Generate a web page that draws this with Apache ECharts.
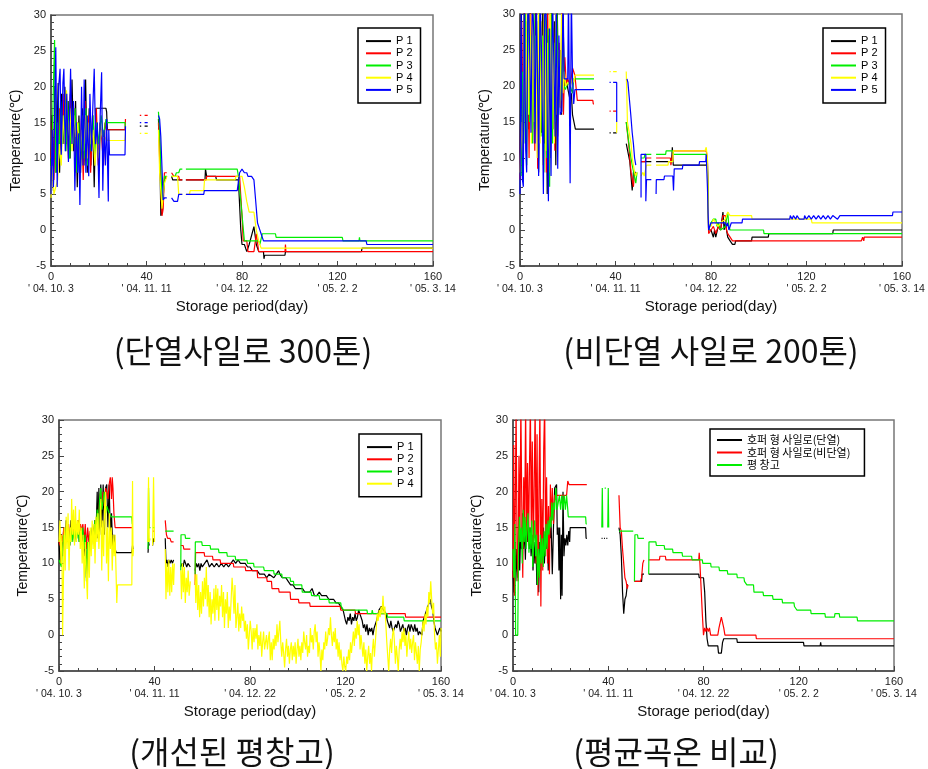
<!DOCTYPE html>
<html><head><meta charset="utf-8">
<script src="https://cdn.jsdelivr.net/npm/echarts@6/dist/echarts.min.js"></script>
<style>html,body{margin:0;padding:0;background:#fff}#c{width:928px;height:769px}</style>
</head><body><div id="c"></div>
<script>
const xTickValues=[0,40,80,120,160];
const xTickDates=["' 04. 10. 3","' 04. 11. 11","' 04. 12. 22","' 05. 2. 2","' 05. 3. 14"];
const yAxisTitle='Temperature(℃)';
const xAxisTitle='Storage period(day)';
const panelTitles=['(단열사일로 300톤)','(비단열 사일로 200톤)','(개선된 평창고)','(평균곡온 비교)'];
const pointNames=['P 1','P 2','P 3','P 4','P 5'];
const compareNames=['호퍼 형 사일로(단열)','호퍼 형 사일로(비단열)','평 창고'];

// ---- Panel 1 : 단열사일로 300톤
const c1P1=[[0,9],[0.5,16],[1,5.5],[1.6,20],[2.2,8],[3,20.5],[3.6,8],[4.4,19],[5,12],[5.8,20],[6.5,12],[7.2,18],[8,10],[8.8,21],[9.5,11],[10.3,18],[11,6],[11.7,16],[12.4,8],[13.1,17],[13.8,9],[14.5,21],[15.2,8],[16,17],[16.7,9],[17.4,16],[18.1,6],[18.8,17],[19.5,17],[23,17],[23.3,16.5],[23.6,14],[31,14],null,[37.2,14.5],[37.8,14.5],null,[39.2,14.5],[40.5,14.5],null,[45,15.5],[45.5,12],[46,2],[46.5,2.5],[47.5,7],[48.5,7.5],null,[50.5,7.5],[51,7],[55,7],null,[56.5,7],[64.5,7],[64.7,8.5],[65.2,7.5],[69,7.5],[69.3,7],[78.5,7],[79.5,0],[80,-2],[81,-2],[82,-3],[83,-2],[85,0.5],[86,-2],[87,-3],[89,-3],[89.2,-4],[89.5,-3.5],[98,-3.5],[98.2,-3],[130,-3],[130.3,-2.5],[160,-2.5]];
const c1P2=[[0,10],[0.6,15],[1.2,7],[2,18],[2.8,9],[3.5,17],[4.3,11],[5.1,19],[5.8,12],[6.5,17],[7.3,10],[8.1,19],[8.8,12],[9.6,17],[10.4,8],[11.2,15],[12,10],[12.8,16],[13.5,7],[14.3,18],[15.1,10],[15.9,16],[16.6,8],[17.4,15],[18.2,11],[19,17],[19.8,9],[20.5,15],[21.2,13],[22,9],[22.6,15],[23.2,14],[31,14],[31.2,15.5],null,[37.2,16],[37.8,16],null,[39.2,16],[40.5,16],null,[45,15],[45.5,10],[46.5,2],[47,3],[47.5,8],[48.5,8],null,[50.5,8],[51.3,8],[51.5,7.5],[53.5,7.5],[53.8,7],[55,7],null,[56.5,7],[65,7],[65.2,7.5],[79,7.5],[80,2],[80.5,-1.5],[82,-1.5],[82.5,-3],[85,-3],[86,-0.5],[86.5,-0.5],[87,-3],[98,-3],[98.2,-2],[98.4,-3],[160,-3]];
const c1P3=[[0,9],[0.5,12],[1,20],[1.5,26.5],[2,8],[2.6,15],[3.3,10],[4,18],[4.8,12],[5.5,16],[6.3,11],[7,18],[7.8,10],[8.6,16],[9.3,12],[10.1,17],[10.8,8],[11.6,15],[12.3,9],[13,16],[13.8,10],[14.6,17],[15.3,9],[16.1,15],[16.8,11],[17.6,16],[18.4,10],[19.2,15],[20,12],[21,16],[22,13],[23,15.5],[23.5,15],[31,15],[31.2,14],null,[45,16.5],[45.5,14],[46.5,4],[47,5],[47.5,7.5],[48.5,7.5],null,[50.5,7.5],[52,7.5],[52.5,8],[53.5,8],[54,8.5],[55,8.5],null,[56.5,8.5],[78,8.5],[78.5,7.5],[79.5,4],[81,-1.5],[87,-1.5],[87.5,-2],[88.5,-0.5],[94,-0.5],[94.3,-1],[122,-1],[122.3,-1.5],[129,-1.5],[129.2,-1],[129.4,-1.5],[160,-1.5]];
const c1P4=[[0,4.5],[0.6,9],[1.2,5],[2,6],[2.8,7],[3.5,12],[4.3,9],[5,16],[5.8,12],[6.5,19.5],[7.3,12],[8,17],[8.8,11],[9.6,16],[10.4,13],[11.2,15],[12,9],[12.8,14],[13.6,11],[14.4,16],[15.2,10],[16,15],[16.8,12],[17.6,14],[18.4,9],[19.2,13],[20,10],[21,14],[22,12],[23,13],[23.5,12.5],[31,12.5],[31.2,13.5],null,[37.2,13.5],[37.8,13.5],null,[39.2,13.5],[40.5,13.5],null,[45,14],[45.5,8],[46.5,3],[47.5,6.5],[48.5,7.5],null,[50.5,7.5],[53,7.5],[53.5,5],[55,5],null,[56.5,5],[58,5],[58.3,5.5],[64,5.5],[64.3,7],[77,7],[77.5,7.5],[80,7.5],[81,6],[82,4],[83,2.5],[85,2.5],[86,0],[87,-1.5],[88,-2.5],[160,-2.5]];
const c1P5=[[0,5],[0.5,14],[1,6],[1.5,16],[2,25.5],[2.6,6],[3.2,20],[3.8,22.5],[4.3,10.5],[5,20.5],[5.4,22.5],[6,11],[6.6,19],[7.3,9.5],[8.2,22.5],[8.8,12],[9.4,18],[10,5.5],[10.6,15],[11.2,8],[11.6,13.5],[12.1,3.5],[12.8,20],[13.4,9],[13.9,21],[14.6,8],[15.2,16],[15.8,7.5],[16.3,19],[17,11],[17.5,17],[18.1,22.5],[18.7,12],[19.4,15],[20.1,4.5],[20.6,16],[21.2,22],[21.7,5.5],[22.2,14],[22.8,9],[23.3,15.5],[24,4],[24.2,14],[24.5,10.5],[31,10.5],[31.2,14.5],null,[37.2,15],[37.8,15],null,[39.2,15],[40.5,15],null,[45,16],[45.5,15.5],[46,13],[47,4.2],[47.5,4.5],[48.5,4.5],null,[50.5,4.5],[51.5,4],[53,4],[53.5,5],[55,5],null,[56.5,5],[64,5],[64.2,5.5],[78,5.5],[79,8],[80,8.5],[81,8],[82,8],[82.5,7.5],[84,7.5],[85,7],[85.5,5],[86.5,1],[87.5,0],[88,-0.5],[89,-1.5],[132,-1.5],[132.3,-2],[160,-2]];

// ---- Panel 2 : 비단열 사일로 200톤
const c2P1=[[0,8],[0.6,30],[1.2,9],[1.8,33],[2.4,12],[3,29],[3.6,14],[4.2,33],[4.8,16],[5.4,31],[6,12],[6.6,33],[7.2,15],[7.8,8],[8.4,28],[9,13.5],[9.6,33],[10.2,12],[10.8,30],[11.4,5],[12,27],[12.6,10],[13.2,33],[13.8,14],[14.4,29],[15,9],[15.6,31],[16.2,17],[16.8,25],[17.4,16],[18,30],[18.6,20],[19.2,21],[20,21],[21,18],[21.5,19],[22,16],[22.5,16],[23.2,14],[31,14],null,[37.5,13.5],[38,13.5],null,[39,13.5],[40.5,13.5],null,[44.5,12],[45.2,12],[46,9.5],[46.5,9.5],[47,5.5],[47.5,8],[48.5,8],null,[50.7,9.5],[55,9.5],null,[57,9.5],[63.5,9.5],[63.8,11.5],[64.2,9],[78,9],[78.5,9.5],[79,0],[80,0],[81,-1],[81.5,0],[82,-1],[83,0.5],[84,0],[85,2.5],[85.5,0],[86,1],[87,-1],[88,-1.5],[89,-2],[90,-2],[90.3,-1.5],[97,-1.5],[97.2,-1],[104,-1],[104.2,-0.5],[131,-0.5],[131.2,0],[160,0]];
const c2P2=[[0,7],[0.7,29],[1.3,10],[2,33],[2.6,13],[3.2,27],[3.8,10],[4.4,33],[5,14],[5.6,30],[6.2,11],[6.8,31],[7.4,8.5],[8,33],[8.6,14],[9.2,25],[9.8,10],[10.4,33],[11,8],[11.6,31],[12.2,9],[12.8,33],[13.4,15],[14,28],[14.6,11],[15.2,33],[15.8,13],[16.4,26],[17,17],[17.6,32],[18.2,16],[18.8,24],[19.4,20],[20,21],[21,20],[22,22.5],[22.5,22.5],[23,21.5],[24,18],[30.5,18],[30.7,17.5],[31,17.5],null,[37.5,16.5],[38,16.5],null,[39,16.5],[40.5,16.5],null,[44.5,15],[45.5,12],[46.5,8],[47.5,6],[48,8],[48.5,7.5],null,[50.7,9.5],[52.5,9.5],[52.7,10],[55,10],null,[57,10],[63,10],[63.2,9],[64,9],[64.2,11],[78,11],[78.5,10],[79,-0.5],[80,0],[81,0.5],[82,-0.5],[83,0.5],[84,0],[85,2],[86,2],[86.5,0],[87,-0.5],[88,-1],[89,-1.5],[143,-1.5],[143.5,-1],[144,-1.5],[144.2,-1],[160,-1]];
const c2P3=[[0,8],[0.5,7.5],[1,22],[1.6,12],[2.2,30],[2.8,9],[3.4,33],[4,15],[4.6,27],[5.2,12],[5.8,33],[6.4,14],[7,29],[7.6,11],[8.2,33],[8.8,13],[9.4,27],[10,8],[10.6,32],[11.2,10],[11.8,28],[12.4,6],[13,33],[13.6,12],[14.2,26],[14.8,15],[15.4,33],[16,16],[16.6,24],[17.2,18],[17.8,28],[18.4,20],[19,19.5],[20,20.5],[21,20],[22,19],[22.5,21],[23,21],[31,21],null,[44.5,15],[46,11],[47,9],[48.5,6.5],[49,8],null,[50.7,10],[52,10],[52.3,10.5],[55,10.5],null,[57,10.5],[61,10.5],[61.2,11],[64,11],[64.2,10.5],[78,10.5],[78.5,9],[79,0],[80,1],[81,1.5],[82,1.5],[82.5,0.5],[83,1],[84,0],[86,0.5],[87,2.5],[87.5,0.5],[88,0],[102,0],[102.2,-0.5],[160,-0.5]];
const c2P4=[[0,8],[0.6,15],[1.2,10],[1.8,30],[2.4,14],[3,33],[3.6,16],[4.2,30],[4.8,12],[5.4,33],[6,15],[6.6,27],[7.2,10],[7.8,33],[8.4,12],[9,29],[9.6,9],[10.2,33],[10.8,11],[11.4,26],[12,8],[12.6,33],[13.2,14],[13.8,28],[14.4,12],[15,33],[15.6,16],[16.2,25],[16.8,17],[17.4,30],[18,19],[18.6,22],[19.2,20],[20,20.5],[21,20],[22,21],[22.5,20.5],[23,21.5],[31,21.5],null,[37.5,22],[38,22],null,[39,22],[40.5,22],null,[40.5,15],[40.5,13.5],null,[44.5,22],[45,15],[45.5,14],[46.5,12],[47,10],[48,8],[48.5,7.5],[49,8],null,[50.7,7.5],[51.5,8],[52,7.5],[53,9],[55,9],null,[57,9],[62,9],[62.2,9.5],[64,9.5],[64.2,11],[77.5,11],[78,11.5],[78.5,10],[79,0.5],[80,0.5],[81,1.5],[82,1],[83,0.5],[84,1],[86,1.5],[87,2.5],[88,2],[97,2],[97.2,1.5],[122,1.5],[122.3,1],[160,1]];
const c2P5=[[0,5],[0.5,30],[1,7],[1.4,6],[1.8,33],[2.4,11],[2.8,8],[3.3,33],[3.8,29],[4.2,22],[4.6,13.5],[5.2,33],[5.8,27],[6.3,12],[6.8,33],[7.3,22],[7.8,7.5],[8.4,33],[9,25],[9.8,5],[10.4,33],[11,29],[11.5,12],[11.9,4],[12.4,28],[13,7.5],[13.6,33],[14.2,23],[14.7,13],[15.2,33],[15.8,8.5],[16.3,27],[16.8,16],[17.5,16.5],[18,33],[18.5,21],[20,21],[20.3,33],[21,6.5],[21.5,33],[22,21],[22.5,17.5],[23,19.5],[31,19.5],null,[37.5,20.5],[38,20.5],null,[39,20.5],[40.5,20.5],[40.5,15],null,[44.8,21],[45.2,20.5],[45.6,19],[46.4,16],[47,13.5],[47.5,12],[48,10],[48.5,9],null,[50.7,4.5],[50.7,10.5],[52.7,10.5],[52.7,4],[53,7],[55,7],null,[57,5],[57.1,7],[60.3,7],[60.5,7.5],[64,7.5],[64.3,5.5],[64.6,8.5],[68,8.5],[68.2,9],[75,9],[75.2,9.5],[77.8,9.5],[78,10.5],[78.5,6],[79,0],[80,1],[86,1],[86.5,0.5],[87,1],[87.5,0],[88,0],[88.5,1],[93,1],[93.2,1.5],[113,1.5],[113.2,2],[114,1.5],[114.5,2],[115.5,1.5],[116,2],[117,1.5],[119,1.5],[119.2,2],[120,1.5],[121,2],[122,1.5],[123,2],[124,1.5],[125,2],[126,1.5],[127,2],[128,1.5],[129,2],[130,1.5],[131,2],[133,1.5],[134,2],[156,2],[156.2,2.5],[160,2.5]];

// ---- Panel 3 : 개선된 평창고
const c3P1=[[0,13],[0.5,10],[1,14],[1.5,11],[2,15],[2.5,12.5],[3,16],[3.5,13],[4,15],[4.5,12.5],[5,16],[5.5,14],[6,16.5],[6.5,13],[7,15.5],[7.5,14],[8,16],[8.5,13],[9,15],[9.5,13],[10,14.5],[10.5,11],[11,14],[11.5,8],[12,13],[12.5,10],[13,14],[13.5,12],[14,15],[14.5,13.5],[15,16],[15.5,14],[16,20],[16.3,13.5],[16.7,20.5],[17,14],[17.5,21],[18,15],[18.5,21],[19,14],[19.5,20.5],[20,21],[20.5,15],[21,21],[21.5,14],[22,17],[22.5,12],[23,14],[23.5,12],[24,11.5],[30.5,11.5],[30.8,12.5],[31,12],null,[37.3,11.5],[37.5,13],[37.8,12.5],null,[39.2,12.5],[39.5,13.5],[39.8,13],null,[44.5,13.5],[44.8,10],[45.2,10.5],[45.6,9.5],[46,10.5],[46.5,10],[47,10.5],[47.5,10],[48,10.5],null,[51,9.5],[51.5,10],[52,9.5],[52.5,10.5],[53,10],[53.5,9.5],[54,10],[55,9.5],null,[57,9],[57.5,10],[58,9.5],[58.5,10],[59,9],[59.5,10],[60,9.5],[61,10],[62,10.5],[62.5,10],[63,9.5],[64,10],[65,9.5],[66,10],[67,9.5],[68,10],[69,9.5],[70,10],[71,9.5],[72,10],[73,10.5],[74,10],[75,10.5],[76,10],[78,10],[79,9.5],[80,9.5],[81,9],[83,9],[84,8.5],[86,8.5],[87,8],[88,8.5],[90,8],[91,8.5],[92,9],[92.5,8.5],[93.5,8],[95,8],[96,7.5],[97,7],[98,7],[99,6.5],[102,6.5],[103,6],[105,6],[106,6.5],[107,5.5],[108,5.5],[109,6],[110,5.5],[112,5.5],[113,5],[115,5],[116,4.5],[117,4.5],[118,4],[119,3.5],[120,2],[120.5,1.5],[121,2.5],[121.5,2],[122,3],[122.5,1.5],[123,2.5],[123.5,2],[124,3],[124.5,2],[125,2.5],[125.5,3.5],[126,3],[127,2],[127.5,1],[128,1.5],[128.5,0.5],[129,1.5],[129.5,0],[130,1],[130.5,0.5],[131,1],[131.5,0],[132,1],[133,2],[134,3.5],[135,4],[136,3.5],[137,3],[137.5,2],[138,1.5],[138.5,1],[139,2],[139.5,1],[140,0.5],[141,1.5],[141.5,1],[142,2],[142.5,1.5],[143,0.5],[143.5,1],[144,1.5],[144.5,0.5],[145,1],[145.5,0],[146,1],[146.5,1.5],[147,0.5],[147.5,1.5],[148,1],[148.5,0.5],[149,1.5],[149.5,0.5],[150,1],[150.5,0],[151,0.5],[152,0],[152.5,2],[153,2.5],[153.5,3],[154,3.5],[155,4.5],[155.5,5],[156,4],[156.5,3.5],[157,2],[157.5,1],[158,0.5],[158.5,0],[159,0.5],[159.5,1],[160,0.5]];
const c3P2=[[0,13],[0.5,12.5],[1,14],[1.5,13],[2,15],[2.5,12.5],[3,14.5],[3.5,13],[4,15.5],[4.5,13.5],[5,15],[5.5,14],[6,16],[6.5,13.5],[7,15],[7.5,14],[8,16],[8.5,14.5],[9,15.5],[9.5,14.5],[10,15.5],[10.5,13],[11,15.5],[11.5,12],[12,15],[12.5,13],[13,14.5],[13.5,12.5],[14,15],[14.5,14],[15,16],[15.5,15],[16,17],[16.5,15],[17,19],[17.5,20],[18,18],[18.5,20],[19,18],[19.5,20.5],[20,20],[20.5,19],[21,21],[21.5,22],[22,19],[22.3,22],[22.6,20.5],[23,17],[23.5,15],[31,15],null,[37.3,15],[38,15],null,[39.3,14.5],[40,14.5],null,[44.5,16],[45,14],[45.5,13.5],[46.5,13.5],[47,13],[48,13],null,[51,12.5],[52,12.5],[52.3,12],[55,12],null,[57,7],[57.2,11.5],[60.8,11.5],[61,11],[64.3,11],[64.5,10.5],[67.5,10.5],[67.7,10],[73,10],[73.2,9.5],[78,9.5],[78.2,9],[83,9],[83.2,8],[87,8],[87.2,7.5],[89,7.5],[89.2,6.5],[92,6.5],[92.2,6],[96.8,6],[97,5],[100.3,5],[100.5,4.5],[105,4.5],[105.2,4],[117.8,4],[118,3.5],[124,3.5],[124.2,3],[145,3],[145.2,2.5],[160,2.5]];
const c3P3=[[0,10.5],[0.5,10],[1,9.5],[1.5,12],[2,14],[2.5,12.5],[3,15],[3.5,13],[4,14.5],[4.5,12.5],[5,15],[5.5,13],[6,14.5],[6.5,13],[7,15],[7.5,13.5],[8,15],[8.5,13],[9,14.5],[9.5,13],[10,15],[10.5,12],[11,14],[11.5,7.5],[12,13],[12.5,10],[13,14],[13.5,12.5],[14,15],[14.5,13],[15,16],[15.5,14],[16,17.5],[16.5,15],[17,19],[17.5,20.5],[18,17.5],[18.5,17.5],[19,20],[19.5,17],[20,18],[21,17],[22,16.5],[24,16.5],[30.5,16.5],[30.7,15.5],[31,15.5],null,[37.3,12],[37.5,20.5],[37.8,15],[38.3,15],null,[39.3,15],[40,15],null,[44.5,14.5],[48,14.5],null,[51,9],[51.1,14],[52.8,14],[53,13.5],[55,13.5],null,[57,8.5],[57.1,13],[59.8,13],[60,12.5],[63.3,12.5],[63.5,12],[66.8,12],[67,11.5],[70.3,11.5],[70.5,11],[73.8,11],[74,10.5],[78.7,10.5],[79,10],[81.5,10],[81.7,9.5],[85.7,9.5],[86,9],[89.9,9],[90.1,8.5],[93.3,8.5],[93.5,8],[96.8,8],[97,7.5],[98.2,7.5],[98.4,7],[101.7,7],[101.9,6],[105.6,6],[105.8,5.5],[109,5.5],[109.2,5],[113,5],[113.2,4.5],[118,4.5],[118.2,4],[119,4],[119.2,3.5],[129,3.5],[129.2,3],[131,3],[131.2,3.5],[131.5,3],[137.4,3],[137.6,2.5],[144.4,2.5],[144.6,2],[160,2]];
const c3P4=[[0,13],[0.4,16],[0.8,10],[1.2,14],[1.5,0],[1.9,0],[2.2,15],[2.6,9],[3,16.5],[3.4,12],[3.8,17],[4.2,9],[4.6,15],[5,13],[5.3,19],[5.7,14],[6.1,17.5],[6.5,12.5],[6.9,18],[7.3,13],[7.7,16],[8.1,14],[8.5,17.5],[8.9,12],[9.3,15],[9.7,10],[10.1,14],[10.6,6.5],[11,13],[11.4,9],[11.9,5],[12.3,13],[12.7,8],[13.1,15],[13.5,11],[13.9,16],[14.3,12],[14.7,15.5],[15.1,10],[15.5,16.5],[15.9,13],[16.3,17],[16.7,12],[17.1,15],[17.5,19],[17.9,9],[18.3,16],[18.7,11],[19.1,18],[19.5,20],[19.9,10],[20.3,15],[20.7,7.5],[21.1,17],[21.5,12],[21.9,15],[22.3,9],[22.7,14],[23.1,11],[23.5,14],[23.8,10],[24.2,4.5],[24.5,7],[30.5,7],[30.8,21.5],[31,11],[31.2,12],null,[37.2,13],[37.5,22],[37.8,13],[38.2,13.5],null,[39.2,12.5],[39.6,22],[40,13],null,[44.5,12],[44.8,5],[45.2,10],[45.6,6],[46,10.5],[46.4,5.5],[46.8,9.5],[47.2,6],[47.6,10],[48,7],[48.3,10],null,[51,9],[51.3,5],[51.7,10],[52.1,6],[52.5,9.5],[52.9,4.5],[53.3,8],[53.7,6],[54.1,9],[54.5,5.5],[55,7.5],null,[57,8.5],[57.3,4.5],[57.7,8.5],[58.1,3.5],[58.5,7],[58.9,2.5],[59.3,6],[59.7,3],[60.1,7.5],[60.5,4],[60.9,8],[61.3,5],[61.7,9.5],[62.1,4],[62.5,7],[62.9,2.5],[63.3,6],[63.7,1.5],[64.1,5],[64.5,3],[64.9,6.5],[65.3,2],[65.7,7],[66.1,3.5],[66.5,6.5],[66.9,2],[67.3,5.5],[67.7,4],[68.1,7],[68.5,2.5],[68.9,6],[69.3,1],[69.7,5],[70.1,3],[70.5,6],[70.9,1],[71.3,4],[71.7,2],[72.1,5],[72.5,8],[72.9,6],[73.3,3],[73.7,7],[74.1,1],[74.5,2.5],[74.9,4.5],[75.3,0.5],[75.7,3],[76.1,1],[76.5,4],[76.9,2],[77.3,3],[77.7,0.5],[78.1,2],[78.5,-0.5],[78.9,1.5],[79.3,-2],[79.7,0],[80.1,2],[80.5,0.5],[80.9,-2],[81.3,1],[81.7,-1],[82.1,1],[82.5,-0.5],[82.9,1.5],[83.3,-2],[83.7,0],[84.1,-1.5],[84.5,0.5],[84.9,-3],[85.3,-1],[85.7,0.5],[86.1,-2],[86.5,-1],[86.9,0],[87.3,-2],[87.7,-0.5],[88.1,0.5],[88.5,-3.5],[88.9,-1],[89.3,-3.5],[89.7,-0.5],[90.1,-2],[90.5,0],[90.9,-1.5],[91.3,1.5],[91.7,-1],[92.1,0.5],[92.5,2],[92.9,-1],[93.3,-3],[93.7,-1],[94.1,-2.5],[94.5,-4.5],[94.9,-2],[95.3,-0.5],[95.7,-3],[96.1,-1.5],[96.5,-4],[96.9,-2],[97.3,-1],[97.7,-3.5],[98.1,-1.5],[98.5,-3],[98.9,-1],[99.3,-4],[99.7,-2],[100.1,-0.5],[100.5,-3],[100.9,-1.5],[101.3,-3.5],[101.7,-1],[102.1,-2.5],[102.5,0.5],[102.9,-1],[103.3,-2],[103.7,0],[104.1,-3],[104.5,-1.5],[104.9,-2.5],[105.3,1],[105.7,-1],[106.1,0],[106.5,-2],[106.9,0.5],[107.3,1.5],[107.7,-1],[108.1,0.5],[108.5,-3],[108.9,-1],[109.3,-2.5],[109.7,-5],[110.1,-2],[110.5,-3.5],[110.9,-1],[111.3,-2],[111.7,0.5],[112.1,-1.5],[112.5,-0.5],[112.9,1],[113.3,0],[113.7,2.5],[114.1,0],[114.5,-1.5],[114.9,0.5],[115.3,-1],[115.7,1],[116.1,-2],[116.5,-0.5],[116.9,-3],[117.3,-1],[117.7,-3.5],[118.1,-2],[118.5,-4],[118.9,-5],[119.3,-3],[119.7,-4.5],[120.1,-5],[120.5,-3],[120.9,-4],[121.3,-2],[121.7,-3.5],[122.1,-1],[122.5,-2.5],[122.9,-1],[123.3,0.5],[123.7,-1.5],[124.1,1],[124.5,-0.5],[124.9,2],[125.3,0],[125.7,1.5],[126.1,-2],[126.5,0],[126.9,-1.5],[127.3,-3],[127.7,-1],[128.1,-4],[128.5,-2],[128.9,-5],[129.3,-3],[129.7,-1.5],[130.1,-4],[130.5,-2.5],[130.9,-5],[131.3,-2],[131.7,-0.5],[132.1,-3],[132.5,-1],[132.9,1],[133.3,3],[133.7,2],[134.1,3.5],[134.5,2.5],[134.9,4],[135.3,3],[135.7,5.5],[136.1,3],[136.5,4],[136.9,1.5],[137.3,-1],[137.7,-3],[138.1,-5],[138.5,-2],[138.9,-0.5],[139.3,-2.5],[139.7,0],[140.1,1],[140.5,-1],[140.9,-4],[141.3,-1.5],[141.7,-3],[142.1,-5],[142.5,-2],[142.9,-0.5],[143.3,-2],[143.7,0.5],[144.1,-1],[144.5,1],[144.9,-1.5],[145.3,0],[145.7,-3],[146.1,-1],[146.5,0.5],[146.9,-2],[147.3,-0.5],[147.7,-2.5],[148.1,-1],[148.5,0],[148.9,-3.5],[149.3,-1],[149.7,-2.5],[150.1,-4],[150.5,-1.5],[150.9,-5],[151.3,-2],[151.7,-1],[152.1,0.5],[152.5,2],[152.9,0.5],[153.3,3],[153.7,1.5],[154.1,4],[154.5,2.5],[154.9,6],[155.3,4.5],[155.7,7.5],[156.1,5],[156.5,3],[156.9,4.5],[157.3,0],[157.7,-2],[158.1,-1],[158.5,-4],[158.9,-2],[159.3,0],[159.7,-3],[160,1]];

// ---- Panel 4 : 평균곡온 비교
const c4Insulated=[[0,9],[0.4,6],[0.8,13],[1.2,7.5],[1.6,12],[2,8],[2.4,16],[2.8,9],[3.2,14],[3.6,12],[4,17],[4.4,12],[4.8,15],[5.2,10.5],[5.6,16],[6,13],[6.4,17],[6.8,12],[7.2,15],[7.6,11],[8,14],[8.4,9],[8.8,13],[9.2,10],[9.6,14],[10,7],[10.4,12],[10.8,6],[11.2,13],[11.6,9],[12,14],[12.4,11],[12.8,15],[13.2,10],[13.6,14],[14,12],[14.4,16],[14.8,9],[15.2,14],[15.6,13.5],[16,15.5],[16.5,8.5],[17,15],[17.5,20.5],[18,20.5],[18.3,21],[18.6,14],[19,15],[19.3,9],[19.6,15],[20,5],[20.3,14],[20.6,5.5],[21,20],[21.4,11],[21.8,13.5],[22.2,12.5],[22.6,14],[23,12.5],[23.4,14.5],[23.8,13],[24,15],[30.5,15],[30.7,13.5],[31,13.5],null,[37.2,13.5],[37.6,13.5],null,[38.2,13.5],[38.6,13.5],null,[39.2,13.5],[39.6,13.5],null,[44.5,15],[45,14],[45.5,11],[46,6],[46.5,3],[47,5],[47.5,5.5],[48,7],[48.3,7],null,[51,7.5],[54,7.5],[54.2,8.5],[55,8.5],null,[57,8.5],[78,8.5],[78.2,8],[80,8],[80.5,6],[81,2],[81.5,-0.5],[82,-1.5],[86,-1.5],[86.3,-2.5],[87.5,-2.5],[88,-1],[88.5,-0.5],[94,-0.5],[94.2,-1],[122,-1],[122.2,-1.5],[129,-1.5],[129.2,-1],[129.4,-1.5],[160,-1.5]];
const c4NonInsulated=[[0,8],[0.3,26.5],[0.6,5.5],[1,20],[1.3,32],[1.7,12],[2.1,7.5],[2.5,25],[2.9,13],[3.3,32],[3.7,18],[4.1,8],[4.5,22],[4.9,15],[5.3,32],[5.7,13],[6.1,24],[6.5,12.5],[6.9,23],[7.3,32],[7.7,14],[8.1,27],[8.5,11],[8.9,21],[9.3,32],[9.7,10],[10.1,28],[10.5,5.5],[10.9,20],[11.3,32],[11.7,4],[12.1,19],[12.5,9],[12.9,26],[13.3,32],[13.7,11],[14.1,22],[14.5,10],[14.9,18],[15.3,8.5],[15.7,21],[16.1,15.5],[16.5,20.5],[17,15.5],[17.5,19.5],[22.5,19.5],[23,21.5],[23.5,21],[31,21],null,[44.5,19.5],[45,15],[45.5,14.5],[46,12],[47,8],[47.5,7.5],[48,6.5],[48.3,7],null,[51,7.5],[53.5,7.5],[54,8],[54.5,10],[55,10.5],null,[57,10.5],[61.5,10.5],[61.7,11],[64,11],[64.2,10.5],[78,10.5],[78.2,11.5],[78.5,10],[79.5,3],[80,0],[80.5,1],[81,0.5],[81.5,1],[82,0.5],[82.5,1],[83,0],[86,0],[86.5,1],[87.5,2.5],[88.5,1],[89,0],[102,0],[102.2,-0.5],[160,-0.5]];
const c4Warehouse=[[0,12],[0.4,8],[0.8,15.5],[1.1,0],[2,0],[2.3,12],[2.7,16.5],[3.1,13],[3.5,15],[3.9,10],[4.3,17.5],[4.7,13],[5.1,16.5],[5.5,12],[5.9,15],[6.3,17],[6.7,11.5],[7.1,15],[7.5,12],[7.9,16],[8.3,9.5],[8.7,13],[9.1,16],[9.5,11],[9.9,14],[10.3,7],[10.7,12],[11.1,8],[11.5,14],[11.9,10],[12.3,13.5],[12.7,9.5],[13.1,14.5],[13.5,11],[13.9,15.5],[14.3,12],[14.7,16],[15.1,14],[15.5,16.5],[15.9,15],[16.3,18.5],[16.7,16],[17.1,18.5],[17.5,17.5],[18,20.5],[18.5,17.5],[19,17.5],[19.5,19.5],[20,17.5],[20.5,19.5],[21,17.5],[21.5,19.5],[22,17.5],[22.5,19.5],[23,17.5],[23.2,16.5],[30.5,16.5],[30.7,15.5],[31,15.5],null,[37.3,15],[37.5,20.5],[37.7,15],null,[38.5,20.5],[39,20.5],null,[39.8,15],[40,20.5],[40.2,15],null,[44.5,14.5],[50.5,14.5],null,[51,7.5],[51.2,14],[52.3,14],[52.5,13.5],[55,13.5],null,[57,8.5],[57.1,13],[60,13],[60.2,12.5],[63.5,12.5],[63.7,12],[67,12],[67.2,11.5],[71,11.5],[71.2,11],[75,11],[75.2,10.5],[79.5,10.5],[79.7,10],[83,10],[83.2,9.5],[86.5,9.5],[86.7,9],[90,9],[90.2,8.5],[94,8.5],[94.2,8],[97,8],[97.2,7.5],[98,7.5],[98.2,7],[101,7],[101.2,6],[105,6],[105.2,5.5],[109,5.5],[109.2,5],[113,5],[113.2,4.5],[118,4.5],[118.2,4],[119,4],[119.2,3.5],[125,3.5],[125.2,3],[131,3],[131.2,2.5],[135,2.5],[135.2,3],[137,3],[137.2,2.5],[144.5,2.5],[144.7,2],[160,2]];

const COLORS=['#000000','#ff0000','#00ee00','#ffff00','#0000ff'];
const GRIDS=[{left:51,top:15,width:382,height:251},{left:520,top:14,width:382,height:252},{left:59,top:420,width:382,height:251},{left:513,top:420,width:381,height:251}];
const YNAMEGAP=[28,28,29,29];
const LEGENDS=[{left:358,top:28},{left:823,top:28},{left:359,top:434},{left:710,top:429}];
const TITLEPOS=[[243,351],[711,351],[232,752],[676,752]];
const FONT='"Liberation Sans", Arial, sans-serif';

const panels=[
  {names:pointNames,data:[c1P1,c1P2,c1P3,c1P4,c1P5]},
  {names:pointNames,data:[c2P1,c2P2,c2P3,c2P4,c2P5]},
  {names:pointNames.slice(0,4),data:[c3P1,c3P2,c3P3,c3P4]},
  {names:compareNames,data:[c4Insulated,c4NonInsulated,c4Warehouse]}
];
function prep(arr){return arr.map(p=>p===null?['-','-']:p);}
const dateOf={};xTickValues.forEach((v,i)=>dateOf[v]=xTickDates[i]);

const grid=[],xAxis=[],yAxis=[],series=[],legend=[],graphic=[];
panels.forEach((pn,i)=>{
  grid.push(Object.assign({show:true,borderColor:'#777',borderWidth:1.5,backgroundColor:'transparent'},GRIDS[i]));
  xAxis.push({type:'value',gridIndex:i,min:0,max:160,interval:40,
    name:xAxisTitle,nameLocation:'middle',nameGap:33,
    nameTextStyle:{fontSize:15,fontFamily:FONT,color:'#111'},
    axisLine:{show:true,onZero:false,lineStyle:{color:'#444',width:1.5}},
    axisTick:{show:true,inside:true,length:5,lineStyle:{color:'#444'}},
    minorTick:{show:true,splitNumber:5,length:3,lineStyle:{color:'#444'}},
    splitLine:{show:false},
    axisLabel:{margin:5,formatter:v=>'{n|'+v+'}\n{d|'+(dateOf[v]||'')+'}',
      rich:{n:{fontSize:11,fontFamily:FONT,color:'#222',lineHeight:12},d:{fontSize:10.5,fontFamily:FONT,color:'#222',lineHeight:12}}}
  });
  yAxis.push({type:'value',gridIndex:i,min:-5,max:30,interval:5,
    name:yAxisTitle,nameLocation:'middle',nameGap:YNAMEGAP[i],
    nameTextStyle:{fontSize:14,fontFamily:FONT,color:'#111'},
    axisLine:{show:true,onZero:false,lineStyle:{color:'#444',width:1.5}},
    axisTick:{show:true,inside:true,length:5,lineStyle:{color:'#444'}},
    minorTick:{show:true,splitNumber:5,length:3,lineStyle:{color:'#444'}},
    splitLine:{show:false},
    axisLabel:{margin:5,fontSize:11,fontFamily:FONT,color:'#222'}
  });
  pn.names.forEach((nm,k)=>{
    series.push({type:'line',name:nm,xAxisIndex:i,yAxisIndex:i,data:prep(pn.data[k]),
      symbol:'none',showSymbol:false,connectNulls:false,clip:true,
      lineStyle:{color:COLORS[k],width:1.2},itemStyle:{color:COLORS[k]},animation:false,silent:true});
  });
  const isCmp=i===3;
  legend.push(Object.assign({orient:'vertical',data:pn.names.map(n=>({name:n,icon:'rect'})),
    borderColor:'#000',borderWidth:1.5,padding:isCmp?[5,14,5,7]:[7,8,7,8],
    itemWidth:25,itemHeight:2,itemGap:isCmp?0.5:0,
    textStyle:{fontSize:isCmp?11:11,lineHeight:isCmp?12:12.2,fontFamily:isCmp?'"Noto Sans CJK KR", sans-serif':FONT,color:'#000'},
    selectedMode:false},LEGENDS[i]));
  graphic.push({type:'text',x:TITLEPOS[i][0],y:TITLEPOS[i][1],
    style:{text:panelTitles[i],fontSize:32,fontFamily:'"Noto Sans CJK KR", sans-serif',fill:'#111',
      align:'center',verticalAlign:'middle',textAlign:'center',textVerticalAlign:'middle'}});
});

const chart=echarts.init(document.getElementById('c'),null,{renderer:'canvas'});
chart.setOption({animation:false,backgroundColor:'#fff',grid,xAxis,yAxis,series,legend,graphic});
</script></body></html>
